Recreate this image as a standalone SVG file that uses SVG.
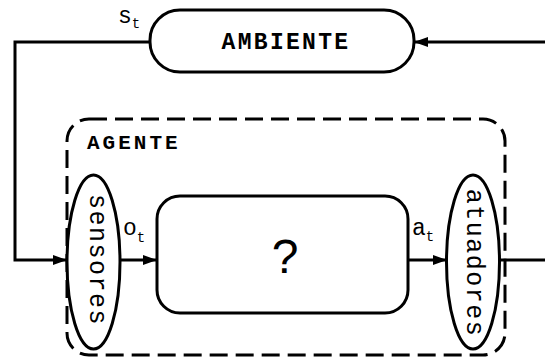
<svg xmlns="http://www.w3.org/2000/svg" width="545" height="358" viewBox="0 0 545 358">
<defs>
<style>
.ln{fill:none;stroke:#000;stroke-width:3}
.shape{fill:#fff;stroke:#000;stroke-width:3}
.dash{fill:none;stroke:#000;stroke-width:3;stroke-dasharray:18 8}
.mono{font-family:"Liberation Mono","Courier New",monospace;fill:#000}
.b{font-weight:bold}
.lbl{font-size:23px}
.sub{font-size:14px}
.vert{font-size:25px;letter-spacing:1.5px}
</style>
<marker id="arr" viewBox="0 0 14 10" refX="14" refY="5" markerWidth="14" markerHeight="10" markerUnits="userSpaceOnUse" orient="auto">
<path d="M0,0 L14,5 L0,10 z" fill="#000"/>
</marker>
</defs>
<rect width="545" height="358" fill="#fff"/>
<g id="agente">
<rect class="dash" x="67" y="119" width="438" height="236" rx="22"/>
<text class="mono b" x="87" y="149" font-size="21" letter-spacing="3">AGENTE</text>
</g>
<g id="connectors">
<path class="ln" d="M150,42 H15 V260 H67" marker-end="url(#arr)"/>
<path class="ln" d="M120,260 H157" marker-end="url(#arr)"/>
<path class="ln" d="M408,260 H447" marker-end="url(#arr)"/>
<path class="ln" d="M500,260 H549 V42 H414" marker-end="url(#arr)"/>
<text class="mono lbl" x="118" y="23">s<tspan class="sub" dy="5">t</tspan></text>
<text class="mono lbl" x="123" y="235">o<tspan class="sub" dy="7">t</tspan></text>
<text class="mono lbl" x="412" y="235">a<tspan class="sub" dy="6">t</tspan></text>
</g>
<g id="ambiente">
<rect class="shape" x="150" y="10" width="264" height="62" rx="30"/>
<text class="mono b" x="286" y="49" font-size="23" letter-spacing="2.3" text-anchor="middle">AMBIENTE</text>
</g>
<g id="sensores">
<ellipse class="shape" cx="93.5" cy="262" rx="26.5" ry="87"/>
<text class="mono vert" transform="translate(90,260) rotate(90)" text-anchor="middle">sensores</text>
</g>
<g id="processo">
<rect class="shape" x="157" y="196" width="251" height="117" rx="23"/>
<text x="285" y="273" font-family="'Liberation Sans',Arial,sans-serif" font-size="48" text-anchor="middle">?</text>
</g>
<g id="atuadores">
<ellipse class="shape" cx="473" cy="262" rx="26.5" ry="87"/>
<text class="mono vert" transform="translate(467,263) rotate(90)" text-anchor="middle">atuadores</text>
</g>
</svg>
